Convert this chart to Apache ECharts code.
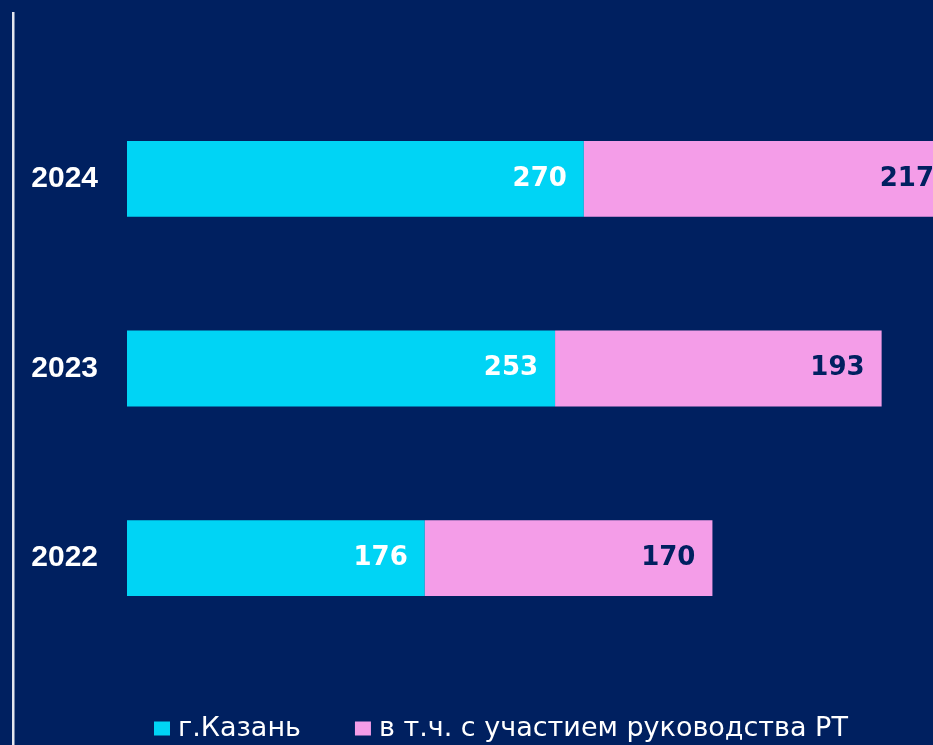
<!DOCTYPE html>
<html>
<head>
<meta charset="utf-8">
<script src="https://cdn.jsdelivr.net/npm/echarts@6/dist/echarts.min.js"></script>
<style>
    html, body { margin: 0; padding: 0; background: #002060; overflow: hidden; }
    /* график шире окна: последний столбец уходит за край, как в оригинале */
    #chart { width: 973px; height: 745px; }
</style>
</head>
<body>
<div id="chart"></div>
<script>
    // годы (снизу вверх)
    var years = ['2022', '2023', '2024'];
    // г.Казань
    var kazan = [176, 253, 270];
    // в т.ч. с участием руководства РТ
    var withRT = [170, 193, 217];
    var seriesNames = ['г.Казань', 'в т.ч. с участием руководства РТ'];

    var chart = echarts.init(document.getElementById('chart'));

    var option = {
        backgroundColor: '#002060',
        animation: false,
        graphic: [
            {
                type: 'rect',
                shape: { x: 12, y: 12, width: 2.5, height: 740 },
                style: { fill: '#e4e6ee' }
            }
        ],
        legend: {
            left: 154,
            top: 715,
            padding: 0,
            itemWidth: 16,
            itemHeight: 14,
            itemGap: 54,
            icon: 'rect',
            textStyle: {
                color: '#ffffff',
                fontSize: 27,
                fontFamily: 'DejaVu Sans',
                fontWeight: 'normal',
                padding: [0, 0, 0, 3]
            },
            data: seriesNames
        },
        grid: {
            left: 127,
            right: 0,
            top: 84,
            bottom: 92
        },
        xAxis: {
            type: 'value',
            min: 0,
            max: 500,
            show: false
        },
        yAxis: {
            type: 'category',
            data: years,
            axisLine: { show: false },
            axisTick: { show: false },
            axisLabel: {
                color: '#ffffff',
                fontSize: 30,
                fontWeight: 'bold',
                fontFamily: 'Liberation Sans',
                margin: 29
            }
        },
        series: [
            {
                name: seriesNames[0],
                type: 'bar',
                stack: 'total',
                barWidth: '40%',
                itemStyle: { color: '#00d4f5' },
                label: {
                    show: true,
                    position: 'insideRight',
                    distance: 17,
                    color: '#ffffff',
                    fontSize: 26,
                    fontWeight: 'bold',
                    fontFamily: 'DejaVu Sans'
                },
                data: kazan
            },
            {
                name: seriesNames[1],
                type: 'bar',
                stack: 'total',
                itemStyle: { color: '#f49de8' },
                label: {
                    show: true,
                    position: 'insideRight',
                    distance: 17,
                    color: '#002060',
                    fontSize: 26,
                    fontWeight: 'bold',
                    fontFamily: 'DejaVu Sans'
                },
                data: withRT
            }
        ]
    };

    chart.setOption(option);
</script>
</body>
</html>
